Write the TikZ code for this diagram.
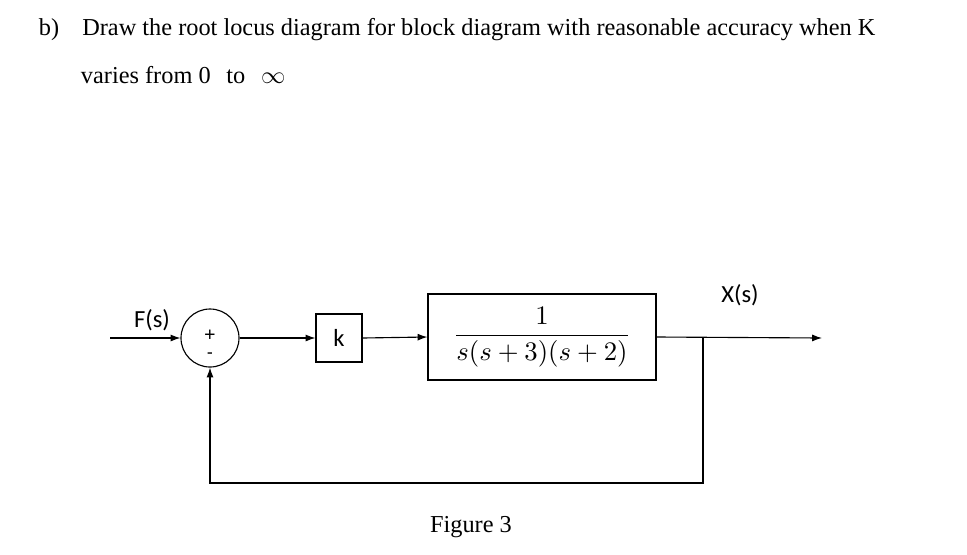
\documentclass[tikz,border=0pt]{standalone}
\usepackage{amsmath}
\usepackage{fontspec}
\setmainfont{Liberation Serif}
\newfontfamily\sansf{Carlito}
\usetikzlibrary{arrows.meta}
\begin{document}
\begin{tikzpicture}[x=0.025cm,y=-0.025cm,
  wire/.style={line width=0.8pt,-{Latex[length=7pt,width=5pt]}},
  lbl/.style={font=\sansf\fontsize{17.5}{20}\selectfont},
  txt/.style={font=\fontsize{17.3}{20}\selectfont,anchor=west}]
\useasboundingbox (0,0) rectangle (967,554);
\node[txt] (t1) at (34,30) {b)\hspace{0.7em} Draw the root locus diagram for block diagram with reasonable accuracy when K};
\node[txt] (t2) at (76,75) {varies from 0\hspace{0.4em} to\hspace{0.4em} $\infty$};
\node[circle,draw,line width=0.8pt,inner sep=0pt,minimum size=1.45cm] (sum) at (210,338) {};
\node[font=\bfseries\Large] at (210,336) {+};
\node[font=\bfseries\large] at (210,355) {-};
\coordinate (in) at (110,338);
\node[lbl] (F) at (152,320) {F(s)};
\node[draw,line width=0.8pt,minimum width=1.15cm,minimum height=1.2cm,lbl] (k) at (339,338) {k};
\node[draw,line width=0.8pt,minimum width=5.7cm,minimum height=2.15cm] (G) at (542,337) {\scalebox{1.9}{$\dfrac{1}{s(s+3)(s+2)}$}};
\coordinate (out) at (822,338);
\coordinate (br) at (703,338);
\coordinate (b1) at (703,483);
\coordinate (b2) at (210,483);
\node[lbl] (X) at (740,295) {X(s)};
\draw[wire] (in) -- (sum.west);
\draw[wire] (sum.east) -- (k.west);
\draw[wire] (k.east) -- (G.west);
\draw[wire] (G.east) -- (out);
\draw[wire] (br) -- (b1) -- (b2) -- (sum.south);
\node[font=\fontsize{17.3}{20}\selectfont] (fig) at (471,527) {Figure 3};
\end{tikzpicture}
\end{document}
